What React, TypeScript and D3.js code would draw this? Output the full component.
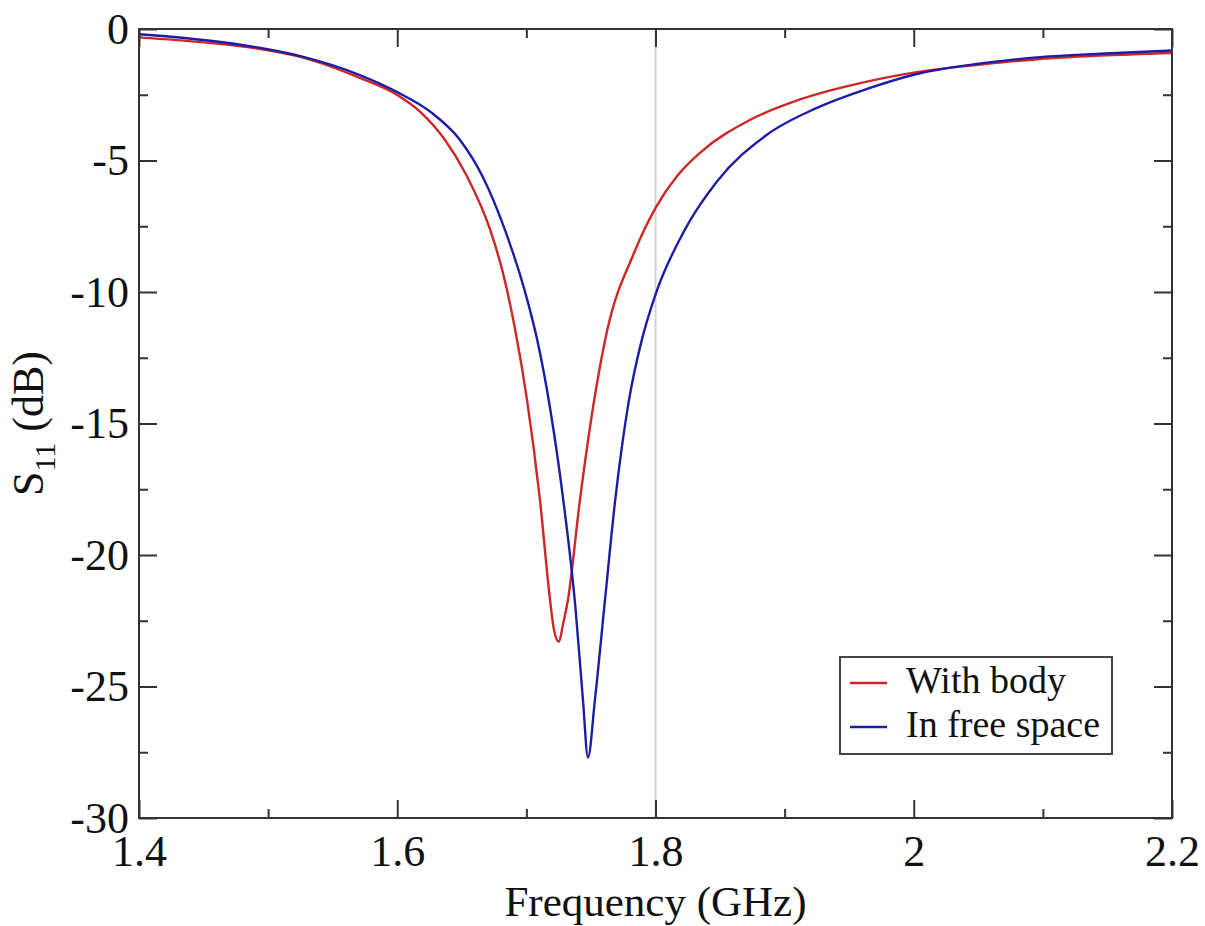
import * as d3 from 'd3';
import React, { useRef, useEffect } from 'react';

// --------------------------------------------------------
// data (frequency in GHz, S11 in dB)
// --------------------------------------------------------
const bodyFreq = [
  1.400, 1.450, 1.494, 1.525, 1.571, 1.600, 1.618, 1.637, 1.654, 1.672, 1.682,
  1.691, 1.7005, 1.7105, 1.7183, 1.7214, 1.7252, 1.7283, 1.7322, 1.7415, 1.7539,
  1.7624, 1.7826, 1.8004, 1.8166, 1.8344, 1.8731, 1.9119, 1.9638,
  2.000, 2.0668, 2.0977, 2.144, 2.200
];
const bodyS11 = [
  -0.32, -0.51, -0.76, -1.06, -1.86, -2.51, -3.16, -4.22, -5.6, -7.64, -9.3,
  -11.35, -14.1, -17.9, -21.7, -22.85, -23.3, -22.65, -21.7, -17.9, -13.7,
  -11.5, -8.6, -6.77, -5.6, -4.71, -3.46, -2.68, -2.0,
  -1.66, -1.28, -1.14, -1.01, -0.91
];

const freeFreq = [
  1.400, 1.450, 1.494, 1.525, 1.571, 1.600, 1.626, 1.6486, 1.666, 1.6834, 1.699,
  1.7083, 1.7183, 1.7283, 1.738, 1.7438, 1.7477, 1.7531, 1.7609, 1.7686, 1.7795,
  1.7895, 1.8004, 1.8213, 1.8476, 1.8863, 1.925, 1.9638, 2.000, 2.0668,
  2.0977, 2.144, 2.200
];
const freeS11 = [
  -0.20, -0.42, -0.72, -1.03, -1.75, -2.40, -3.16, -4.22, -5.6, -7.64, -10.0,
  -11.8, -14.4, -17.8, -22.0, -25.5, -27.7, -25.5, -21.7, -18.0, -14.1,
  -11.8, -10.04, -7.76, -5.80, -4.02, -3.0, -2.28, -1.74, -1.22,
  -1.07, -0.94, -0.82
];

const xMajor = [1.4, 1.6, 1.8, 2.0, 2.2];
const xMinor = [1.5, 1.7, 1.9, 2.1];
const yMajor = [0, -5, -10, -15, -20, -25, -30];
const yMinor = [-2.5, -7.5, -12.5, -17.5, -22.5, -27.5];

const seriesNames = ['With body', 'In free space'];
const seriesColors = ['#cf2727', '#1c1ca6'];

const FONT = '"Liberation Serif", "Times New Roman", Tinos, "DejaVu Serif", Times, serif';

function App() {
  const svgRef = useRef();

  const W = 1205, H = 926;
  const m = { left: 139, right: 1172, top: 29, bottom: 818 };

  useEffect(() => {
    const svg = d3.select(svgRef.current);
    svg.selectAll('*').remove();

    const x = d3.scaleLinear([1.4, 2.2], [m.left, m.right]);
    const y = d3.scaleLinear([-30, 0], [m.bottom, m.top]);

    // vertical marker at 1.8 GHz
    svg.append('line')
      .attr('x1', x(1.8)).attr('x2', x(1.8))
      .attr('y1', m.top).attr('y2', m.bottom)
      .attr('stroke', '#d4d4d4').attr('stroke-width', 2);

    // curves
    const line = d3.line()
      .x(d => x(d[0]))
      .y(d => y(d[1]))
      .curve(d3.curveMonotoneX);

    const series = [d3.zip(bodyFreq, bodyS11), d3.zip(freeFreq, freeS11)];
    series.forEach((pts, i) => {
      svg.append('path')
        .attr('d', line(pts))
        .attr('fill', 'none')
        .attr('stroke', seriesColors[i])
        .attr('stroke-width', 2.4)
        .attr('stroke-linejoin', 'round');
    });

    // axes, ticks pointing inward on all four sides
    const styleAxis = g => {
      g.select('.domain').remove();
      g.selectAll('line').attr('stroke', '#333').attr('stroke-width', 2);
      g.attr('font-family', null).attr('font-size', null);
      g.selectAll('text')
        .style('font-family', FONT)
        .style('font-size', '44px')
        .attr('fill', '#111');
    };

    const fmt = d => String(+d.toFixed(1));

    svg.append('g')
      .attr('transform', `translate(0,${m.bottom})`)
      .call(d3.axisBottom(x).tickValues(xMajor).tickSize(-18).tickPadding(17).tickFormat(fmt))
      .call(styleAxis);
    svg.append('g')
      .attr('transform', `translate(0,${m.bottom})`)
      .call(d3.axisBottom(x).tickValues(xMinor).tickSize(-9).tickFormat(() => ''))
      .call(styleAxis);
    svg.append('g')
      .attr('transform', `translate(0,${m.top})`)
      .call(d3.axisTop(x).tickValues(xMajor).tickSize(-18).tickFormat(() => ''))
      .call(styleAxis);
    svg.append('g')
      .attr('transform', `translate(0,${m.top})`)
      .call(d3.axisTop(x).tickValues(xMinor).tickSize(-9).tickFormat(() => ''))
      .call(styleAxis);

    svg.append('g')
      .attr('transform', `translate(${m.left},0)`)
      .call(d3.axisLeft(y).tickValues(yMajor).tickSize(-18).tickPadding(10).tickFormat(d => String(d)))
      .call(styleAxis);
    svg.append('g')
      .attr('transform', `translate(${m.left},0)`)
      .call(d3.axisLeft(y).tickValues(yMinor).tickSize(-9).tickFormat(() => ''))
      .call(styleAxis);
    svg.append('g')
      .attr('transform', `translate(${m.right},0)`)
      .call(d3.axisRight(y).tickValues(yMajor).tickSize(-18).tickFormat(() => ''))
      .call(styleAxis);
    svg.append('g')
      .attr('transform', `translate(${m.right},0)`)
      .call(d3.axisRight(y).tickValues(yMinor).tickSize(-9).tickFormat(() => ''))
      .call(styleAxis);

    // frame
    svg.append('rect')
      .attr('x', m.left).attr('y', m.top)
      .attr('width', m.right - m.left).attr('height', m.bottom - m.top)
      .attr('fill', 'none').attr('stroke', '#333').attr('stroke-width', 2);

    // axis titles
    svg.append('text')
      .attr('x', (m.left + m.right) / 2)
      .attr('y', 916)
      .attr('text-anchor', 'middle')
      .style('font-family', FONT).style('font-size', '43px').attr('fill', '#111')
      .text('Frequency (GHz)');

    const yt = svg.append('text')
      .attr('transform', `translate(43,${(m.top + m.bottom) / 2}) rotate(-90)`)
      .attr('text-anchor', 'middle')
      .style('font-family', FONT).style('font-size', '44px').attr('fill', '#111');
    yt.append('tspan').text('S');
    yt.append('tspan').style('font-size', '30px').attr('dy', 12).text('11');
    yt.append('tspan').attr('dy', -12).text(' (dB)');

    // legend
    const lg = svg.append('g').attr('transform', 'translate(840,657)');
    lg.append('rect')
      .attr('width', 272).attr('height', 97)
      .attr('fill', '#fff').attr('stroke', '#444').attr('stroke-width', 2);
    seriesNames.forEach((name, i) => {
      const cy = 26 + i * 44;
      lg.append('line')
        .attr('x1', 10).attr('x2', 47)
        .attr('y1', cy).attr('y2', cy)
        .attr('stroke', seriesColors[i]).attr('stroke-width', 2.4);
      lg.append('text')
        .attr('x', 66).attr('y', cy + 10)
        .style('font-family', FONT).style('font-size', '38px').attr('fill', '#111')
        .text(name);
    });
  });

  return (
    <div style={{ position: 'absolute', left: 0, top: 0, background: '#fff' }}>
      <svg ref={svgRef} width={W} height={H} style={{ display: 'block' }} />
    </div>
  );
}

export default App;
